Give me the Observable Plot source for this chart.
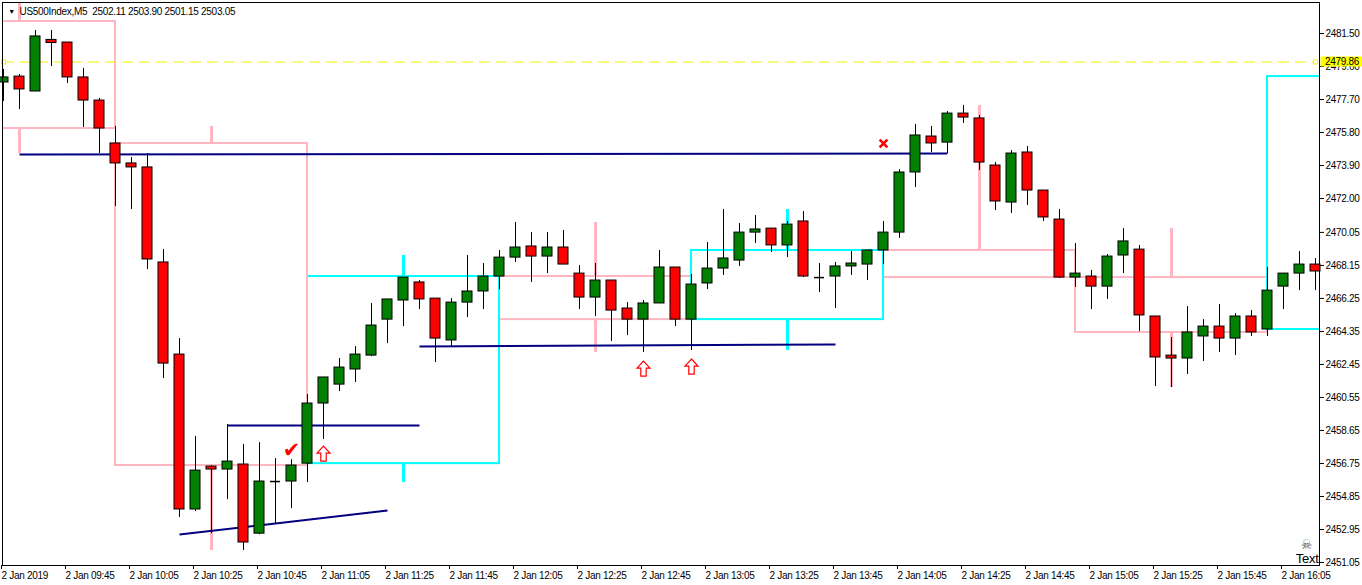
<!DOCTYPE html>
<html><head><meta charset="utf-8">
<script src="https://cdn.jsdelivr.net/npm/d3@7"></script>
<script src="https://cdn.jsdelivr.net/npm/@observablehq/plot@0.6"></script>
<style>
body{margin:0;background:#fff}
#chart svg{display:block}
</style>
</head><body><div id="chart"></div>
<script>
// ---- data (M5 bars, first bar 2 Jan 2019 09:25 UTC) ----
const firstBar = Date.UTC(2019, 0, 2, 9, 25);
const barMs = 5 * 60 * 1000;
const open = [2478.68,2479.02,2478.16,2481.13,2480.98,2478.97,2477.64,2475.17,2474.02,2473.79,
  2468.32,2463.02,2454.10,2456.57,2456.40,2456.69,2452.71,2455.71,2455.71,2456.74,
  2460.20,2461.29,2462.16,2462.96,2465.03,2466.13,2467.17,2466.24,2463.83,2466.01,
  2466.65,2467.51,2468.60,2469.24,2468.66,2469.18,2467.68,2466.30,2467.28,2465.67,
  2465.03,2465.96,2468.03,2465.03,2467.11,2467.97,2468.43,2470.04,2470.27,2469.30,
  2470.68,2467.45,2467.51,2468.09,2468.20,2469.01,2470.04,2473.50,2475.57,2475.22,
  2476.89,2476.61,2473.90,2471.77,2474.65,2472.46,2470.79,2467.45,2467.51,2466.93,
  2468.72,2469.06,2465.21,2462.96,2462.79,2464.06,2464.63,2463.94,2465.21,2464.46,
  2466.93,2467.68,2468.20];
const high = [2479.43,2479.14,2481.67,2481.67,2480.98,2479.49,2477.76,2476.15,2474.36,2474.59,
  2469.07,2463.94,2458.30,2456.63,2458.99,2457.84,2457.95,2457.03,2456.97,2460.72,
  2461.70,2462.79,2463.48,2465.96,2466.19,2467.45,2467.28,2466.24,2466.24,2468.72,
  2468.26,2469.01,2470.62,2470.04,2470.04,2470.16,2468.14,2468.26,2467.28,2466.01,
  2466.13,2469.01,2468.03,2467.63,2469.47,2471.37,2470.56,2471.02,2470.27,2470.68,
  2471.25,2468.26,2468.32,2468.95,2469.01,2470.68,2473.67,2476.26,2476.15,2477.01,
  2477.36,2476.78,2474.07,2474.76,2475.00,2472.46,2471.37,2469.41,2467.86,2468.78,
  2470.27,2469.30,2465.21,2464.00,2465.78,2465.03,2465.90,2465.38,2465.55,2468.03,
  2467.68,2468.95,2468.55];
const low = [2477.59,2477.12,2478.16,2479.60,2478.62,2476.09,2474.59,2471.54,2471.37,2467.91,
  2461.64,2453.64,2453.98,2452.71,2454.67,2451.74,2452.65,2453.23,2454.15,2455.65,
  2458.13,2460.89,2461.41,2462.90,2463.65,2464.63,2465.61,2462.56,2463.48,2465.15,
  2465.61,2466.76,2468.32,2467.17,2467.68,2468.20,2465.61,2465.21,2463.77,2464.11,
  2463.14,2465.96,2464.63,2463.25,2466.76,2467.57,2468.09,2469.41,2468.89,2468.60,
  2467.45,2466.59,2465.67,2467.57,2467.28,2468.20,2469.70,2472.63,2474.65,2474.59,
  2476.32,2473.61,2471.31,2471.14,2471.60,2470.68,2467.40,2466.88,2465.61,2466.19,
  2467.68,2464.34,2461.18,2461.12,2461.87,2462.62,2463.14,2462.96,2464.06,2464.06,
  2465.61,2466.70,2466.70];
const close = [2478.97,2478.28,2481.33,2480.95,2478.97,2477.64,2476.03,2474.02,2473.79,2468.49,
  2462.50,2454.10,2456.34,2456.40,2456.86,2452.20,2455.71,2455.71,2456.63,2460.20,
  2461.70,2462.27,2463.02,2464.69,2466.19,2467.45,2466.19,2463.94,2466.01,2466.65,
  2467.51,2468.60,2469.18,2468.66,2469.18,2468.20,2466.30,2467.28,2465.55,2465.03,
  2465.96,2468.03,2465.03,2467.05,2467.97,2468.55,2470.04,2470.22,2469.30,2470.50,
  2467.51,2467.45,2468.09,2468.26,2469.01,2470.04,2473.50,2475.63,2475.17,2476.89,
  2476.66,2474.07,2471.83,2474.59,2472.46,2470.91,2467.45,2467.68,2466.93,2468.66,
  2469.53,2465.27,2462.85,2462.79,2464.29,2464.63,2463.94,2465.21,2464.29,2466.70,
  2467.68,2468.20,2467.80];

// hourly (H1) candle overlay (listed in drawing order, back to front)
const h1Hours = [12, 14, 15, 9, 11, 13, 16, 10];
const h1Open  = [2467.51, 2469.01, 2467.45, 2482.19, 2456.74, 2465.03, 2464.46, 2475.17];
const h1High  = [2470.62, 2477.36, 2470.27, 2483.60, 2468.72, 2471.37, 2480.00, 2476.15];
const h1Low   = [2463.14, 2467.40, 2461.12, 2474.59, 2455.65, 2463.25, 2464.06, 2451.74];
const h1Close = [2465.03, 2467.45, 2464.29, 2476.03, 2467.51, 2469.01, 2479.02, 2456.63];

// navy trend lines (bar index / price)
const trendBar1   = [1, 14, 11, 26];
const trendPrice1 = [2474.53, 2458.93, 2452.66, 2463.48];
const trendBar2   = [59, 26, 24, 52];
const trendPrice2 = [2474.59, 2458.93, 2454.04, 2463.60];

// signal markers
const arrowBars   = [20, 40, 43];
const arrowPrices = [2457.32, 2462.21, 2462.33];
const checkBars   = [18];
const checkPrices = [2457.50];
const crossBars   = [55];
const crossPrices = [2475.17];

const hLinePrice = 2479.86;
const hLineBars = [0, 82];

const yTicks = [2481.50,2479.60,2477.70,2475.80,2473.90,2472.00,2470.05,2468.15,2466.25,
  2464.35,2462.45,2460.55,2458.65,2456.75,2454.85,2452.95,2451.05];
const xTickBars = [0,4,8,12,16,20,24,28,32,36,40,44,48,52,56,60,64,68,72,76,80];
const xTickLabels = ["2 Jan 2019","2 Jan 09:45","2 Jan 10:05","2 Jan 10:25","2 Jan 10:45",
  "2 Jan 11:05","2 Jan 11:25","2 Jan 11:45","2 Jan 12:05","2 Jan 12:25","2 Jan 12:45",
  "2 Jan 13:05","2 Jan 13:25","2 Jan 13:45","2 Jan 14:05","2 Jan 14:25","2 Jan 14:45",
  "2 Jan 15:05","2 Jan 15:25","2 Jan 15:45","2 Jan 16:05"];
const titleText = "US500Index,M5\u00a0\u00a02502.11 2503.90 2501.15 2503.05";

// ---- build ----
const T = i => new Date(firstBar + i * barMs);
const bodyHalf = 5 / 16; // in bars
const GREEN = "#008000", RED = "#FF0000", PINK = "#FFB6C1", CYAN = "#00FFFF", NAVY = "#000080";

const bars = open.map((o, i) => ({i, t: T(i), open: o, high: high[i], low: low[i], close: close[i]}));
const bodies = bars.filter(d => d.open !== d.close);
const dojis = bars.filter(d => d.open === d.close);

const h1 = h1Hours.map((h, k) => ({
  start: new Date(Date.UTC(2019, 0, 2, h, 0)),
  end: new Date(Date.UTC(2019, 0, 2, h + 1, 0)),
  mid: new Date(Date.UTC(2019, 0, 2, h, 30)),
  open: h1Open[k], high: h1High[k], low: h1Low[k], close: h1Close[k]
}));
const h1Color = d => d.close > d.open ? CYAN : PINK;

const trends = trendBar1.map((b, k) => ({x1: T(b), y1: trendPrice1[k], x2: T(trendBar2[k]), y2: trendPrice2[k]}));
const arrows = arrowBars.map((b, k) => ({t: T(b), p: arrowPrices[k]}));
const checks = checkBars.map((b, k) => ({t: T(b), p: checkPrices[k]}));
const crosses = crossBars.map((b, k) => ({t: T(b), p: crossPrices[k]}));

const upArrow = {
  draw(ctx) {
    ctx.moveTo(0, -7.5); ctx.lineTo(6.5, -0.5); ctx.lineTo(2.7, -0.5); ctx.lineTo(2.7, 7.5);
    ctx.lineTo(-2.7, 7.5); ctx.lineTo(-2.7, -0.5); ctx.lineTo(-6.5, -0.5); ctx.closePath();
  }
};

const plot = Plot.plot({
  width: 1362, height: 585,
  marginLeft: 2, marginRight: 43, marginTop: 2, marginBottom: 20,
  style: {fontFamily: "'Liberation Sans', Arial, sans-serif", fontSize: "10px", color: "black", background: "white", letterSpacing: "-0.3px"},
  x: {type: "utc", domain: [T(-1 / 16), T(82.25)]},
  y: {domain: [2450.877, 2483.284]},
  color: {type: "identity"},
  marks: [
    Plot.axisY({anchor: "right", ticks: yTicks, tickFormat: d => d.toFixed(2), tickSize: 4, tickPadding: 2, label: null}),
    Plot.axisX({ticks: xTickBars.map(T), tickFormat: (d, k) => xTickLabels[k], tickSize: 4, tickPadding: 2, textAnchor: "start", dx: -2, label: null}),
    // H1 overlay
    Plot.rect(h1, {x1: "start", x2: "end", y1: "open", y2: "close", fill: "none", stroke: h1Color, strokeWidth: 2, clip: true}),
    Plot.ruleX(h1, {x: "mid", y1: d => Math.max(d.open, d.close), y2: "high", stroke: h1Color, strokeWidth: 3, clip: true}),
    Plot.ruleX(h1, {x: "mid", y1: d => Math.min(d.open, d.close), y2: "low", stroke: h1Color, strokeWidth: 3, clip: true}),
    // trend lines
    Plot.link(trends, {x1: "x1", y1: "y1", x2: "x2", y2: "y2", stroke: NAVY, strokeWidth: 2}),
    // horizontal line
    Plot.ruleY([hLinePrice], {x1: T(hLineBars[0]), x2: T(hLineBars[1]), stroke: "#F2F200", strokeWidth: 1, strokeDasharray: "11,6"}),
    Plot.dot(hLineBars, {x: b => T(b), y: () => hLinePrice, symbol: "square", r: 2.3, fill: "white", stroke: "#F2F200", strokeWidth: 1}),
    // candles
    Plot.ruleX(bars, {x: "t", y1: "low", y2: "high", stroke: "black", strokeWidth: 1}),
    Plot.rect(bodies, {x1: d => T(d.i - bodyHalf), x2: d => T(d.i + bodyHalf), y1: "open", y2: "close",
      fill: d => d.close > d.open ? GREEN : RED, stroke: "black", strokeWidth: 1}),
    Plot.ruleY(dojis, {y: "open", x1: d => T(d.i - bodyHalf), x2: d => T(d.i + bodyHalf), stroke: "black", strokeWidth: 1.5}),
    // signals
    Plot.dot(arrows, {x: "t", y: "p", symbol: upArrow, r: 6, fill: "white", stroke: RED, strokeWidth: 1.2}),
    Plot.text(checks, {x: "t", y: "p", text: () => "\u2714", fill: RED, fontSize: 21, fontFamily: "DejaVu Sans"}),
    Plot.dot(crosses, {x: "t", y: "p", symbol: "times", r: 3.6, stroke: RED, strokeWidth: 2.5}),
    // labels inside frame
    Plot.text(["\u25BC"], {frameAnchor: "top-left", dx: 9, dy: 9, fontSize: 7, lineAnchor: "middle", textAnchor: "middle"}),
    Plot.text([titleText], {frameAnchor: "top-left", dx: 17, dy: 9, fontSize: 10, lineAnchor: "middle", textAnchor: "start"}),
    Plot.text(["\u2620"], {frameAnchor: "bottom-right", dx: -13, dy: -21, fontSize: 13, fill: "#555", fontFamily: "DejaVu Sans", lineAnchor: "middle", textAnchor: "middle"}),
    Plot.text(["Text"], {frameAnchor: "bottom-right", dx: -1, dy: -3, fontSize: 13, lineAnchor: "bottom", textAnchor: "end", letterSpacing: "0px"}),
    Plot.frame({stroke: "black"})
  ]
});

// current-price label on the price axis (covers part of the tick label below, as in the source)
const svg = d3.select(plot);
const yPos = plot.scale("y").apply(hLinePrice);
const xEdge = plot.scale("x").apply(T(82.25));
svg.append("rect").attr("x", xEdge + 1.5).attr("y", yPos - 5).attr("width", 42).attr("height", 10).attr("fill", "#FFFF00");
svg.append("text").attr("x", xEdge + 6).attr("y", yPos + 0.5).attr("dy", "0.35em").attr("text-anchor", "start")
  .attr("font-size", 10).attr("fill", "black").text(hLinePrice.toFixed(2));

document.getElementById("chart").appendChild(plot);
</script></body></html>
